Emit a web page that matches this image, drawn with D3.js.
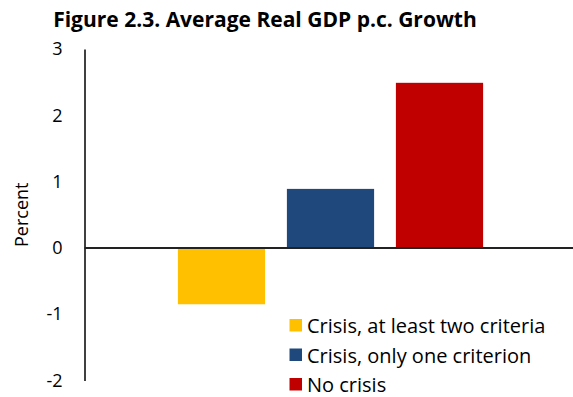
<!DOCTYPE html>
<html><head><meta charset="utf-8">
<script src="https://cdn.jsdelivr.net/npm/d3@7"></script>
<style>body{margin:0;background:#fff}svg{display:block}text{font-family:"Open Sans",sans-serif;fill:#000}</style>
</head><body>
<svg id="c" width="573" height="397"></svg>
<script>
const categories = ["Crisis, at least two criteria", "Crisis, only one criterion", "No crisis"];
const values = [-0.85, 0.89, 2.49];
const colors = ["#FFC000", "#1F497D", "#C00000"];
const yTicks = [-2, -1, 0, 1, 2, 3];
const title = "Figure 2.3. Average Real GDP p.c. Growth";
const yLabel = "Percent";

const svg = d3.select("#c");
const y = d3.scaleLinear().domain([-2, 3]).range([380.5, 49]);
const x = d3.scaleBand().domain(categories).range([167, 494]).paddingInner(0.2).paddingOuter(0.1);
const axisX = 84.5;

svg.append("text").attr("x", 265).attr("y", 27).attr("text-anchor", "middle")
  .style("font-weight", "bold").style("font-size", "21px").text(title);

// bars
svg.selectAll("rect.bar").data(categories).join("rect").attr("class", "bar")
  .attr("x", d => x(d)).attr("width", x.bandwidth())
  .attr("y", (d, i) => y(Math.max(0, values[i])))
  .attr("height", (d, i) => Math.abs(y(values[i]) - y(0)))
  .attr("fill", (d, i) => colors[i]);

// y axis
const ax = svg.append("g").attr("transform", `translate(${axisX},0)`)
  .call(d3.axisLeft(y).tickValues(yTicks).tickSize(0).tickPadding(22).tickFormat(d => String(d)));
ax.select(".domain").attr("stroke", "#000").attr("stroke-width", 1.5);
ax.selectAll("text").style("font-size", "18px").style("font-family", '"Open Sans",sans-serif').attr("fill", "#000");

// zero line
svg.append("line").attr("x1", axisX).attr("x2", 573).attr("y1", y(0)).attr("y2", y(0))
  .attr("stroke", "#222").attr("stroke-width", 2);

svg.append("text").attr("transform", `translate(28,${(y(0)+y(1))/2}) rotate(-90)`)
  .attr("text-anchor", "middle").style("font-size", "18px").text(yLabel);

// legend
const lg = svg.append("g");
categories.forEach((c, i) => {
  const base = 333 + i * 29.5;
  lg.append("rect").attr("x", 289.5).attr("y", base - 14).attr("width", 12.5).attr("height", 12.5).attr("fill", colors[i]);
  lg.append("text").attr("x", 307).attr("y", base).style("font-size", "20px").text(c);
});
</script>
</body></html>
